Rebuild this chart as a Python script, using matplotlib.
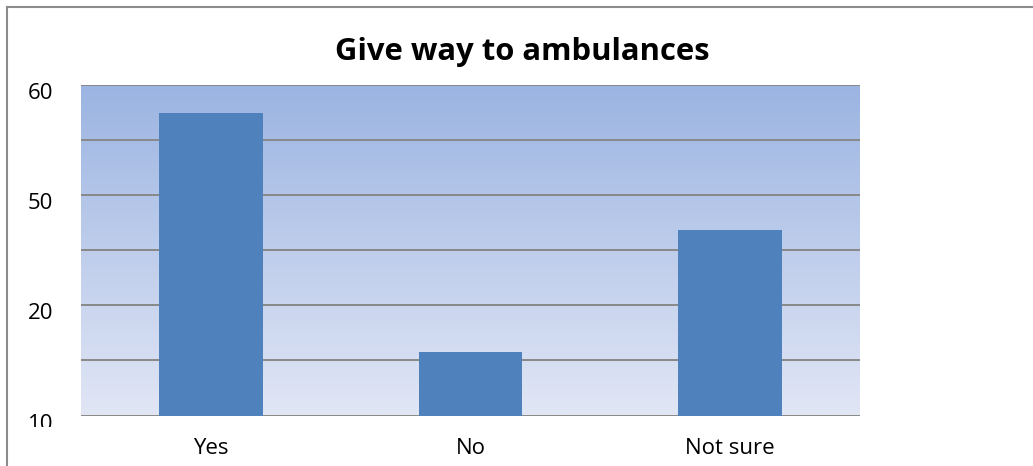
import numpy as np
import matplotlib.pyplot as plt
import matplotlib.transforms as mtransforms
from matplotlib.lines import Line2D

# Survey answers and bar heights (axis units)
categories = ["Yes", "No", "Not sure"]
counts = [54.9, 11.6, 33.7]

# Y axis: gridline every 10, labels on every other line
grid_values = [0, 10, 20, 30, 40, 50, 60]
y_tick_values = [0, 20, 40, 60]
y_tick_labels = ["10", "20", "50", "60"]

title = "Give way to ambulances"

plt.rcParams['font.family'] = ['Open Sans', 'DejaVu Sans']

fig = plt.figure(figsize=(10.33, 4.66), dpi=100)
W, H = 1033, 466
ax = fig.add_axes([81 / W, 1 - 415.5 / H, 779 / W, 330.5 / H])

# vertical gradient fill behind the bars
grad = np.linspace(0, 1, 256).reshape(-1, 1)
top_col = np.array([0x9b, 0xb4, 0xe2]) / 255
bot_col = np.array([0xe1, 0xe6, 0xf5]) / 255
img = top_col * (1 - grad[..., None]) + bot_col * grad[..., None]
img = img.reshape(256, 1, 3)
ax.imshow(img, extent=[-0.5, 2.5, 0, 60], aspect='auto', zorder=0,
          interpolation='bilinear')

for g in grid_values:
    ax.axhline(g, color='#888888', lw=1.4, zorder=1)

x = np.arange(len(categories))
ax.bar(x, counts, width=0.4, color='#4f81bd', zorder=2)

ax.set_xlim(-0.5, 2.5)
ax.set_ylim(0, 60)
for s in ax.spines.values():
    s.set_visible(False)

ax.set_xticks(x)
ax.set_xticklabels(categories, fontsize=16)
ax.set_yticks(y_tick_values)
ax.set_yticklabels(y_tick_labels, fontsize=16)
ax.tick_params(axis='x', length=0, pad=16)
ax.tick_params(axis='y', length=0, pad=20)

# labels sit a few pixels below their gridlines; bottom one is cut off
shift = mtransforms.ScaledTranslation(0, -6 / 100, fig.dpi_scale_trans)
clip = mtransforms.TransformedBbox(
    mtransforms.Bbox([[0, 39 / H], [1, 1]]), fig.transFigure)
for lab in ax.get_yticklabels():
    lab.set_transform(lab.get_transform() + shift)
    lab.set_clip_box(clip)
    lab.set_clip_on(True)

fig.text(522 / W, 1 - 60 / H, title, ha='center', va='baseline',
         fontsize=22.3, fontweight='bold')

# chart frame (top and left edges)
fig.add_artist(Line2D([7 / W, 1], [1 - 7 / H, 1 - 7 / H],
                      transform=fig.transFigure, color='#8c8c8c', lw=1.5))
fig.add_artist(Line2D([7 / W, 7 / W], [0, 1 - 7 / H],
                      transform=fig.transFigure, color='#8c8c8c', lw=1.5))

fig.savefig('out.png', dpi=100)
